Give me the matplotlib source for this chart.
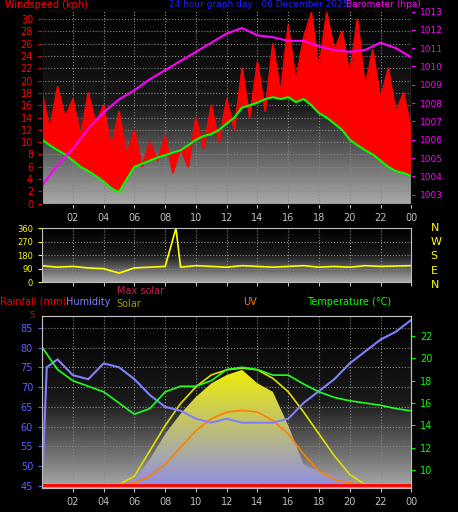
import numpy as np
import matplotlib.pyplot as plt
from matplotlib.colors import LinearSegmentedColormap

# hourly / half-hourly readings
hours = list(range(25))
half_hours = [h / 2 for h in range(49)]
tick_labels = ['02', '04', '06', '08', '10', '12', '14', '16', '18', '20', '22', '00']

wind_gust = [18, 12, 19, 14, 17, 11, 18, 13, 16, 9, 15, 8, 12, 6, 10, 7, 11, 5, 9, 6, 14, 9, 16, 10,
             17, 12, 22, 14, 23, 15, 26, 18, 29, 20, 27, 31, 22, 31, 25, 28, 21, 30, 19, 25, 17, 22, 15, 18, 12]
wind_avg = [10.4, 9.5, 8.7, 8, 7, 6, 5.3, 4.5, 3.6, 2.5, 1.9, 4, 6, 6.5, 7, 7.5, 7.9, 8.3, 8.7, 9.5, 10.4, 11, 11.3, 12,
            13, 14, 15.6, 16, 16.4, 17, 17.3, 17, 17.3, 16.5, 17, 16, 14.7, 14, 13, 12, 10.4, 9.5, 8.7, 8, 7, 6, 5.3, 5, 4.5]
barometer = [1003.5, 1004.6, 1005.5, 1006.6, 1007.5, 1008.2, 1008.7, 1009.3, 1009.8, 1010.3, 1010.8, 1011.3, 1011.8,
             1012.1, 1011.7, 1011.6, 1011.4, 1011.4, 1011.1, 1010.9, 1010.8, 1010.9, 1011.3, 1011.0, 1010.5]

wind_dir = [110, 100, 105, 95, 90, 60, 95, 100, 105, 360, 100, 110, 105, 100, 110, 105, 100, 105, 110, 100, 105, 100, 110, 105, 110]
dir_hours = [0, 1, 2, 3, 4, 5, 6, 7, 8, 8.7, 9, 10, 11, 12, 13, 14, 15, 16, 17, 18, 19, 20, 21, 22, 24]

humidity = [75, 77, 73, 72, 76, 75, 72, 68, 65, 64, 62, 61, 62, 61, 61, 61, 62, 66, 69, 72, 76, 79, 82, 84, 87]
temperature = [21, 19, 18, 17.5, 17, 16, 15, 15.5, 17, 17.5, 17.5, 18, 19, 19.2, 19, 18.5, 18.5, 17.7, 17, 16.5, 16.2, 16, 15.8, 15.5, 15.3]
max_solar = [0, 0, 0, 0, 0, 0, 0.05, 0.2, 0.35, 0.48, 0.58, 0.65, 0.68, 0.69, 0.68, 0.63, 0.55, 0.43, 0.3, 0.17, 0.06, 0, 0, 0, 0]
solar = [0, 0, 0, 0, 0, 0, 0.03, 0.15, 0.3, 0.42, 0.52, 0.6, 0.65, 0.68, 0.6, 0.55, 0.35, 0.12, 0.08, 0.05, 0.02, 0, 0, 0, 0]
uv = [0, 0, 0, 0, 0, 0, 0.01, 0.05, 0.12, 0.22, 0.32, 0.39, 0.43, 0.44, 0.43, 0.38, 0.3, 0.18, 0.08, 0.03, 0.01, 0, 0, 0, 0]

bg = LinearSegmentedColormap.from_list('bg', ['#000000', '#1a1a1a', '#a8a8a8'])
sol = LinearSegmentedColormap.from_list('sol', ['#9090e0', '#f0f000'])


def setup(ax, ymin, ymax):
    ax.set_facecolor('black')
    ax.imshow(np.linspace(1, 0, 100).reshape(-1, 1), cmap=bg, aspect='auto', origin='lower',
              extent=[0, 24, ymin, ymax], zorder=0)
    ax.set_xlim(0, 24)
    ax.set_ylim(ymin, ymax)
    ax.set_xticks(range(2, 25, 2))
    ax.set_xticklabels(tick_labels, color='#6060ff', fontsize=7)
    ax.grid(True, color='#888888', linestyle=':', linewidth=0.8)
    for s in ax.spines.values():
        s.set_color('#c0c0c0')
    ax.tick_params(colors='#c0c0c0', length=3, labelsize=7)


fig = plt.figure(figsize=(4.58, 5.12), dpi=100, facecolor='black')

# panel 1: wind and barometer
ax1 = fig.add_axes([0.092, 0.602, 0.806, 0.379])
setup(ax1, 0, 31.5)
ax1.fill_between(half_hours, wind_avg, wind_gust, color='red', lw=0, zorder=2)
ax1.plot(half_hours, wind_gust, color='red', lw=1.2, zorder=3)
ax1.plot(half_hours, wind_avg, color='#00ff00', lw=1.5, zorder=4)
ax1.set_yticks(range(0, 31, 2))
ax1.tick_params(axis='y', colors='red')
ax1b = ax1.twinx()
ax1b.set_ylim(1002.5, 1013.1)
ax1b.plot(hours, barometer, color='#ff00ff', lw=1.5)
ax1b.set_yticks(range(1003, 1014))
ax1b.tick_params(axis='y', colors='#ff00ff', labelsize=6.5, length=3)
fig.text(0.01, 1.0, 'Windspeed (kph)', color='red', fontsize=7, va='top')
fig.text(0.37, 1.0, '24 hour graph day : 06 December 2025', color='#2020ff', fontsize=6.5, va='top')
fig.text(0.755, 1.0, 'Barometer (hpa)', color='#ff00ff', fontsize=6.5, va='top')

# panel 2: wind direction
ax2 = fig.add_axes([0.092, 0.449, 0.806, 0.105])
setup(ax2, 0, 360)
ax2.plot(dir_hours, wind_dir, color='#ffff00', lw=1.2)
ax2.set_yticks([0, 90, 180, 270, 360])
ax2.tick_params(axis='y', colors='#ffff00', labelsize=6)
ax2.set_xticklabels([])
for i, c in enumerate('NWSEN'):
    fig.text(0.94, 0.565 - i * 0.028, c, color='#ffff00', fontsize=8, va='top')

# panel 3: humidity, temperature, solar
ax3 = fig.add_axes([0.092, 0.047, 0.806, 0.336])
setup(ax3, 44.5, 88)
ax3.set_yticks(range(45, 86, 5))
ax3.tick_params(axis='y', colors='#6060ff')
ax3.spines['left'].set_color('#6060ff')
ax3s = ax3.twinx()
ax3s.set_ylim(-0.02, 1)
ax3s.set_yticks([])
poly = ax3s.fill_between(hours, 0, solar, color='none')
img = ax3s.imshow(np.linspace(0, 1, 100).reshape(-1, 1), cmap=sol, aspect='auto', origin='lower',
                  extent=[0, 24, 0, 0.7], zorder=1)
img.set_clip_path(poly.get_paths()[0], transform=ax3s.transData)
ax3s.plot(hours, max_solar, color='#e0e000', lw=1.2)
ax3s.plot(hours, uv, color='#ff8000', lw=1.2)
ax3s.axhline(0, color='red', lw=2)
ax3h = ax3.twinx()
ax3h.set_ylim(44.5, 88)
ax3h.axis('off')
ax3h.plot([0, 0.3] + hours[1:], [45, 75] + humidity[1:], color='#8080ff', lw=1.5)
ax3t = ax3.twinx()
ax3t.set_ylim(8.4, 23.8)
ax3t.plot(hours, temperature, color='#20ff20', lw=1.2)
ax3t.set_yticks(range(10, 23, 2))
ax3t.tick_params(axis='y', colors='#00ff00', labelsize=7, length=3)
for s in ax3t.spines.values():
    s.set_color('#c0c0c0')
fig.text(0.0, 0.405, 'Rainfall (mm)', color='red', fontsize=7)
fig.text(0.145, 0.405, 'Humidity', color='#8080ff', fontsize=7)
fig.text(0.255, 0.425, 'Max solar', color='#c02050', fontsize=7)
fig.text(0.255, 0.4, 'Solar', color='#a0a000', fontsize=7)
fig.text(0.53, 0.405, 'UV', color='#ff8000', fontsize=7)
fig.text(0.67, 0.405, 'Temperature (°C)', color='#00ff00', fontsize=7)
fig.text(0.065, 0.378, '5', color='red', fontsize=6)

fig.savefig('out.png', dpi=100, facecolor='black')
